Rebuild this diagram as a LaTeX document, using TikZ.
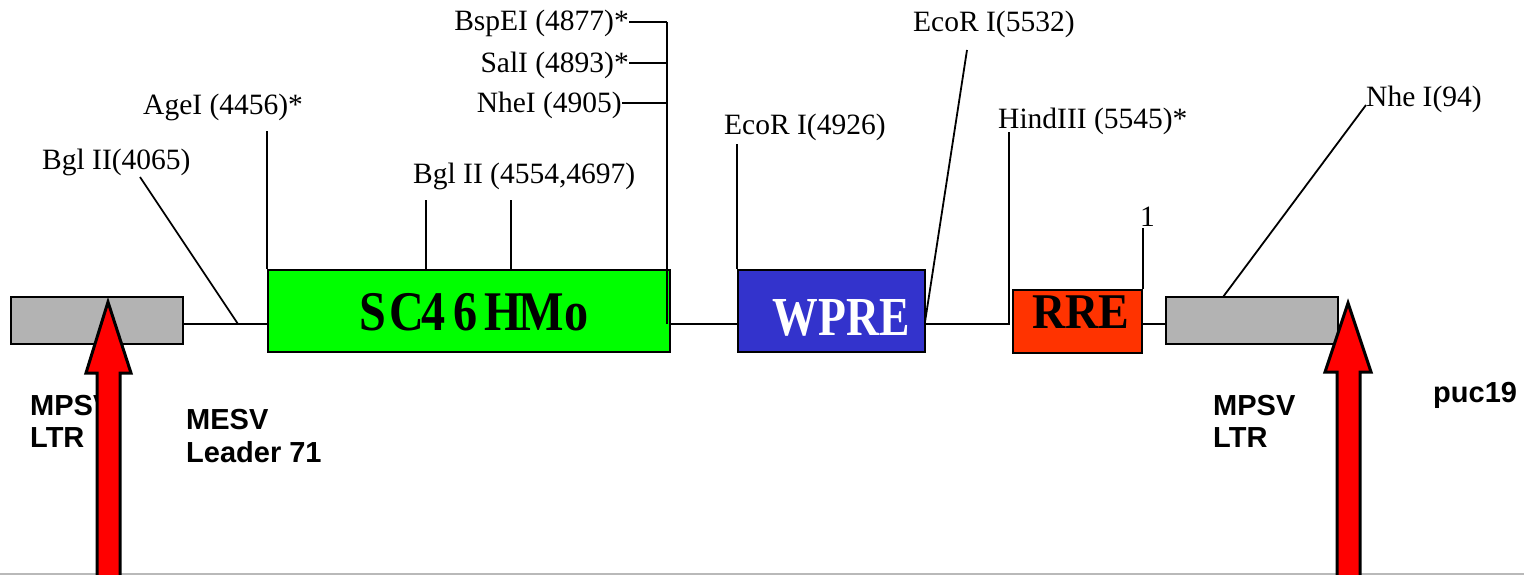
\documentclass[tikz,border=0pt]{standalone}
\usepackage{fontspec}
\usepackage{graphicx}
\setmainfont{Liberation Serif}
\setsansfont{Liberation Sans}
\begin{document}
\begin{tikzpicture}[x=1pt,y=-1pt,
  box/.style={draw=black, line width=2pt, inner sep=0pt},
  site/.style={font=\fontsize{29.5}{31}\selectfont, inner sep=0pt},
  tag/.style={font=\sffamily\bfseries\fontsize{29}{33}\selectfont, inner sep=0pt, align=left},
  boxtext/.style={font=\bfseries, inner sep=0pt, anchor=base},
  lead/.style={line width=1.8pt},
  bigarrow/.style={fill=red, draw=black, line width=3pt, line join=miter}]
\useasboundingbox (0,0) rectangle (1524,575);
\definecolor{ltrgray}{RGB}{179,179,179}
\definecolor{wpreblue}{RGB}{51,51,204}
\definecolor{rreorange}{RGB}{255,51,0}
\draw[gray!55, line width=1.5pt] (0,574) -- (1524,574);
\coordinate (bb) at (0,324);
% boxes
\node[box, fill=ltrgray, minimum width=172pt, minimum height=47pt] (ltrL) at (97,320.5) {};
\node[box, fill=green, minimum width=402pt, minimum height=82pt] (sc) at (469,311) {};
\node[box, fill=wpreblue, minimum width=187pt, minimum height=82pt] (wpre) at (831.5,311) {};
\node[box, fill=rreorange, minimum width=129pt, minimum height=63pt] (rre) at (1077.5,321.5) {};
\node[box, fill=ltrgray, minimum width=172pt, minimum height=47pt] (ltrR) at (1252,320.5) {};
% box texts
\node[boxtext, font=\bfseries\fontsize{56}{56}\selectfont] (sct) at (474,330) {\scalebox{0.86}[1]{S\kern4pt C\kern-4pt 4\kern10pt 6\kern8pt H\kern-4pt Mo}};
\node[boxtext, font=\bfseries\fontsize{55}{55}\selectfont, text=white] (wpret) at (841,335) {\scalebox{0.83}[1]{WPRE}};
\node[boxtext, font=\bfseries\fontsize{50}{50}\selectfont] (rret) at (1081,328) {\scalebox{0.92}[1]{RRE}};
% backbone
\draw[lead] (ltrL.east |- bb) -- (sc.west |- bb);
\draw[lead] (sc.east |- bb) -- (wpre.west |- bb);
\coordinate (hindbot) at (1009,324);
\coordinate (hindtop) at (1009,132);
\draw[lead] (wpre.east |- bb) -- (hindbot) -- (hindtop);
\draw[lead] (rre.east |- bb) -- (ltrR.west |- bb);
% site labels
\node[site, anchor=base west] (bgl1) at (42,170) {Bgl II(4065)};
\node[site, anchor=base west] (agei) at (143,115) {AgeI (4456)*};
\node[site, anchor=base west] (bgl2) at (413,183) {Bgl II (4554,4697)};
\node[site, anchor=base east] (bsp) at (629,31) {BspEI (4877)*};
\node[site, anchor=base east] (sal) at (629,73) {SalI (4893)*};
\node[site, anchor=base east] (nhe) at (622,113) {NheI (4905)};
\node[site, anchor=base west] (eco1) at (724,135) {EcoR I(4926)};
\node[site, anchor=base west] (eco2) at (913,32) {EcoR I(5532)};
\node[site, anchor=base west] (hind) at (998,129) {HindIII (5545)*};
\node[site, anchor=base west] (one) at (1140,226) {1};
\node[site, anchor=base west] (nhe94) at (1366,107) {Nhe I(94)};
% leader lines
\coordinate (b1top) at (140,177);
\coordinate (b1bot) at (238,324);
\draw[lead] (b1top) -- (b1bot);
\draw[lead] (sc.north west) -- ++(0,-138);
\coordinate (t1) at (426,270); \coordinate (t2) at (511,270);
\draw[lead] (t1) -- ++(0,-70);
\draw[lead] (t2) -- ++(0,-70);
\coordinate (vtop) at (667,22);
\coordinate (vbot) at (667,324);
\draw[lead] (vtop) -- (vbot);
\draw[lead] (bsp.east |- vtop) -- (vtop);
\draw[lead] (sal.east |- 0,63) -- (667,63);
\draw[lead] (nhe.east |- 0,103) -- (667,103);
\draw[lead] (wpre.north west) -- ++(0,-125);
\coordinate (e2top) at (967,50);
\coordinate (e2bot) at (925,322);
\draw[lead] (e2bot) -- (e2top);
\draw[lead] (rre.north east) -- ++(0,-61);
\coordinate (n94a) at (1223,297);
\coordinate (n94b) at (1366,105);
\draw[lead] (n94a) -- (n94b);
% tags
\node[tag, anchor=base west] (mpsv1) at (30,447) {MPSV\\[-1pt]LTR};
\node[tag, anchor=base west] (mesv) at (186,462) {MESV\\Leader 71};
\node[tag, anchor=base west] (mpsv2) at (1213,447) {MPSV\\[-1pt]LTR};
\node[tag, anchor=base west] (puc) at (1433,402) {puc19};
% arrows
\draw[bigarrow] (108,302) -- (131,373) -- (120,373) -- (120,582) -- (97,582) -- (97,373) -- (86,373) -- cycle;
\draw[bigarrow] (1348,303) -- (1371,372) -- (1360,372) -- (1360,582) -- (1337,582) -- (1337,372) -- (1325,372) -- cycle;
\end{tikzpicture}
\end{document}
